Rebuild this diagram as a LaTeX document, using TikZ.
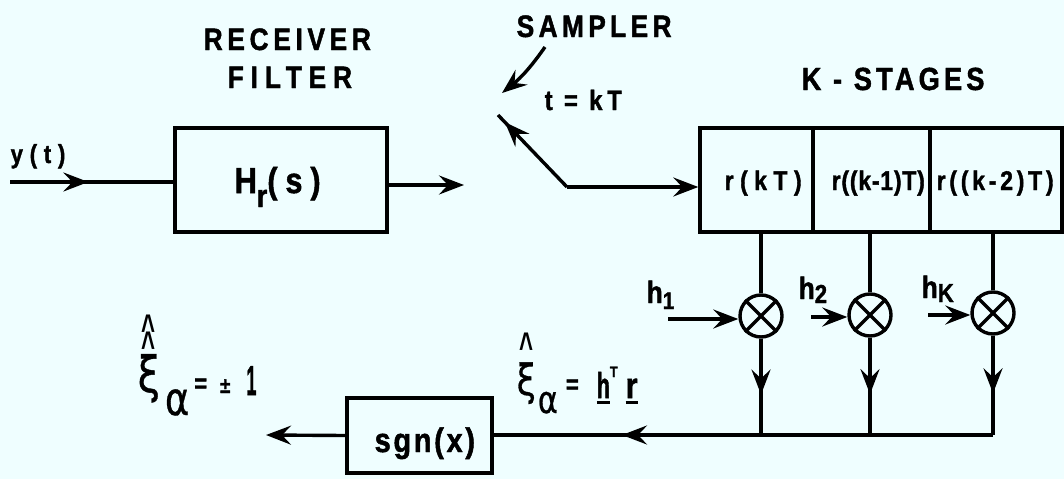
\documentclass[tikz,border=0pt]{standalone}
\usepackage{graphicx}
\usepackage{fontspec}
\setmainfont{Liberation Sans}
\newfontfamily\grk{DejaVu Sans}
\usetikzlibrary{arrows.meta,decorations.markings,calc}
\definecolor{bgc}{RGB}{239,254,255}
\newcommand{\lsp}[1]{\addfontfeature{LetterSpace=#1}}
\newcommand{\F}[1]{\fontsize{#1}{#1}\selectfont\bfseries\addfontfeature{FakeBold=1.4,FakeStretch=0.85}}
\newcommand{\G}[2]{{\fontsize{#1}{#1}\selectfont\grk\addfontfeature{FakeBold=0.8}\scalebox{0.8}[1]{#2}}}
\newcommand{\myover}[3]{\setbox0\hbox{#3}\rlap{\hbox to \wd0{\hss\raisebox{#1}{#2}\hss}}\box0}
\newcommand{\myul}[1]{\setbox0\hbox{#1}\rlap{\rule[-6pt]{\wd0}{3pt}}\box0}
\newcommand{\chev}{\hbox{\fontsize{40}{40}\selectfont\bfseries\scalebox{0.6}[1]{\textasciicircum}}}
\begin{document}
\begin{tikzpicture}[x=1pt,y=-1pt,line width=3.4pt,
  tipa/.style={-{Stealth[length=25pt,width=19pt,inset=9pt]}},
  midarrow/.style={postaction={decorate},decoration={markings,mark=at position #1 with {\arrow{Stealth[length=25pt,width=19pt,inset=9pt]}}}},
  blk/.style={draw,line width=3.4pt,inner sep=0pt,rectangle},
  lab/.style={inner sep=0pt,anchor=base west},
  mult/.style={draw,circle,line width=3.4pt,minimum size=42pt,inner sep=0pt}]
\fill[bgc] (0,0) rectangle (1064,479);
\useasboundingbox (0,0) rectangle (1064,479);

% titles
\node[lab] (rec) at (202,50) {\F{31}\lsp{15}RECEIVER};
\node[lab] (fil) at (226,88) {\F{31}\lsp{22}FILTER};
\node[lab] (samp) at (515,37) {\F{31}\lsp{14}SAMPLER};
\node[lab] (kst) at (800,90) {\F{32}\lsp{13}K - STAGES};

% receiver filter
\node[lab] (ylab) at (9,163) {\F{26}\lsp{26}y(t)};
\coordinate (in) at (10,182);
\node[blk,minimum width=212pt,minimum height=104pt] (hr) at (281,180) {};
\node[lab] (hrt) at (233,193) {\F{36}H\raisebox{-14pt}{\F{32}r}\lsp{22}(s)};
\coordinate (hrout) at (464,185);
\draw[midarrow=0.48] (in) -- (in -| hr.west);
\draw[tipa] (hr.east |- hrout) -- (hrout);

% sampler
\coordinate (sa) at (545,47);
\coordinate (sb) at (502,93);
\draw[tipa] (sa) to[bend left=8] (sb);
\node[lab] (tkt) at (543,110) {\F{28}\lsp{17}t = kT};
\coordinate (sw1) at (498,115);
\coordinate (swc) at (567,187);

% register
\node[blk,minimum width=113pt,minimum height=104pt] (c1) at (756.5,180) {};
\node[blk,minimum width=117pt,minimum height=104pt] (c2) at (871.5,180) {};
\node[blk,minimum width=132pt,minimum height=104pt] (c3) at (996,180) {};
\node[lab] (t1) at (723,190) {\F{27}\lsp{24}r(kT)};
\node[lab] (t2) at (830,190) {\F{27}\lsp{3}r((k-1)T)};
\node[lab] (t3) at (935,190) {\F{27}\lsp{14}r((k-2)T)};
\draw[midarrow=0.9] (swc) -- (sw1);
\draw[tipa] (swc) -- (swc -| c1.west);

% multipliers
\node[mult] (m1) at (761,316) {};
\node[mult] (m2) at (870,315) {};
\node[mult] (m3) at (993,313) {};
\foreach \m in {m1,m2,m3}{
  \draw (\m.north west) -- (\m.south east);
  \draw (\m.north east) -- (\m.south west);
}
\draw (m1.north) -- (m1.north |- c1.south);
\draw (m2.north) -- (m2.north |- c2.south);
\draw (m3.north) -- (m3.north |- c3.south);

\node[lab] (h1) at (645,303) {\F{31}h\raisebox{-6pt}{\F{24}1}};
\node[lab] (h2) at (797,299) {\F{31}h\raisebox{-4pt}{\F{26}2}};
\node[lab] (hk) at (920,298) {\F{31}h\raisebox{-4pt}{\F{26}K}};
\coordinate (h1s) at (668,319);
\coordinate (h2s) at (811,317);
\coordinate (hks) at (928,315);
\draw[tipa] (h1s) -- (m1.west |- h1s);
\draw[tipa] (h2s) -- (m2.west |- h2s);
\draw[tipa] (hks) -- (m3.west |- hks);

% summing bus
\coordinate (j1) at (761,435);
\coordinate (j2) at (870,435);
\coordinate (j3) at (993,435);
\draw[midarrow=0.58] (m1.south) -- (j1);
\draw[midarrow=0.58] (m2.south) -- (j2);
\draw[midarrow=0.58] (m3.south) -- (j3);
\draw (j3) -- (j2) -- (j1);

\node[blk,minimum width=145pt,minimum height=75pt] (sgn) at (419.5,435.5) {};
\node[lab] (sgnt) at (373,452) {\F{34}\lsp{8}sgn(x)};
\draw[midarrow=0.52] (j1) -- (j1 -| sgn.east);
\coordinate (out) at (266,435);
\draw[tipa] (sgn.west) -- (out);

% labels
\node[lab] (xi1) at (515,395) {\myover{35pt}{\chev}{\G{43}{ξ}}\kern2pt\raisebox{-18pt}{\G{38}{α}}\kern8pt\raisebox{2pt}{\F{26}=}\kern18pt\raisebox{-3pt}{\F{36}\myul{\scalebox{0.7}[1]{h}}\raisebox{21pt}{\F{15}T}\kern8pt\myul{r}}};
\node[lab] (xi2) at (136,392) {\myover{50pt}{\chev}{\myover{33pt}{\chev}{\G{50}{ξ}}}\kern5pt\raisebox{-23pt}{\G{46}{α}}\kern5pt{\F{26}=}\kern13pt\raisebox{-1pt}{\F{22}±}\kern16pt\raisebox{-3pt}{\F{42}\scalebox{0.5}[1]{1}}};
\end{tikzpicture}
\end{document}
